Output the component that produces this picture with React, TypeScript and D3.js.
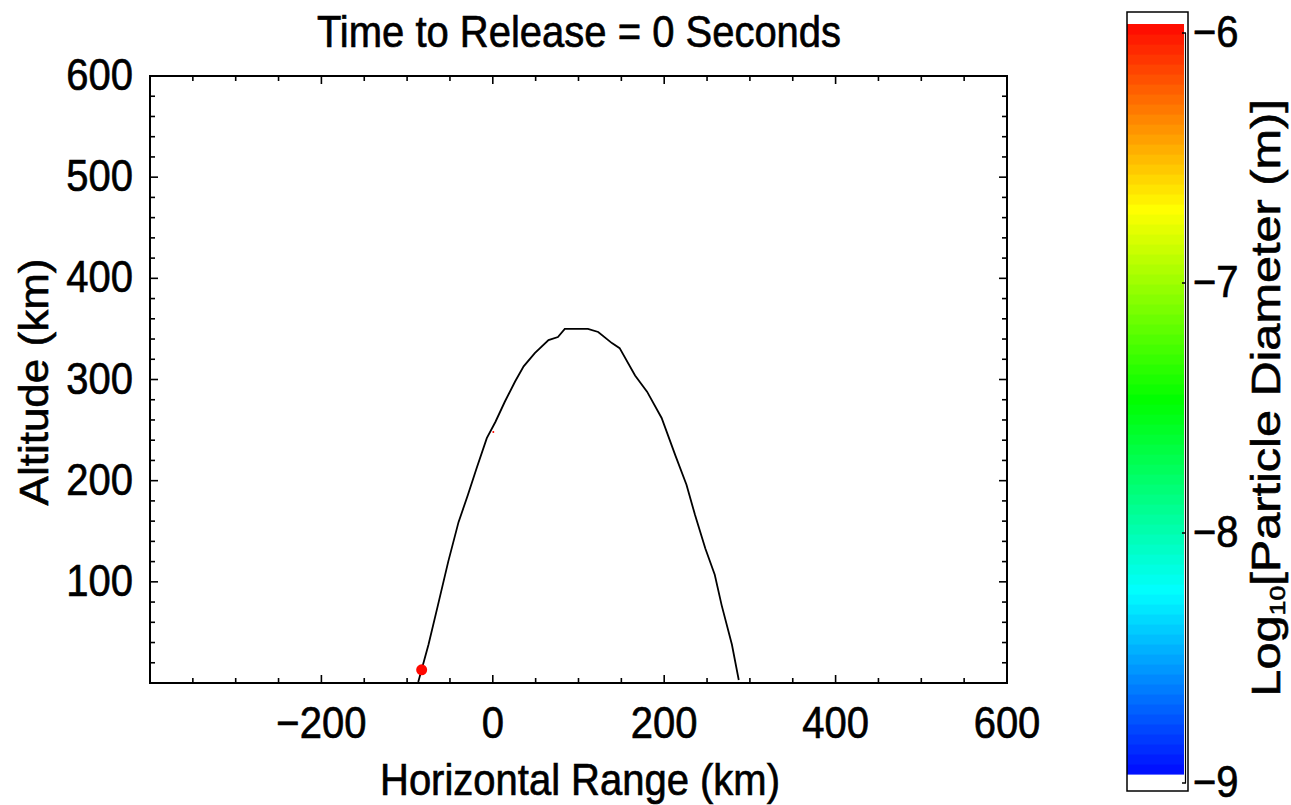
import React from 'react';
import * as d3 from 'd3';

// trajectory: [horizontal range km, altitude km]
const trackX = [-87, -75, -64, -52, -40, -29, -19, -7, 3, 14, 26, 36, 49, 65, 76, 84, 111, 123, 139, 148, 166, 180, 197, 213, 226, 236, 248, 259, 267, 279, 287];
const trackY = [1, 38, 77, 120, 159, 186, 212, 242, 258, 278, 298, 313, 326, 339, 342, 350, 350, 347, 336, 331, 304, 288, 262, 225, 196, 166, 133, 107, 77, 38, 3];

// particles: position and log10 diameter
const particleX = [-83, 0.6];
const particleY = [13, 248];
const particleSize = [5.5, 1];
const particleLogD = [-6, -6];

const xTicks = [-200, 0, 200, 400, 600];
const yTicks = [100, 200, 300, 400, 500, 600];
const cbTicks = [-6, -7, -8, -9];

const FONT = "'Liberation Sans', Arial, Helvetica, sans-serif";
const SY = 1.1;

const W = 1291;
const H = 805;
const plot = { left: 150, right: 1007, top: 76, bottom: 683 };

const x = d3.scaleLinear().domain([-400, 600]).range([plot.left, plot.right]);
const y = d3.scaleLinear().domain([0, 600]).range([plot.bottom, plot.top]);
const cy = d3.scaleLinear().domain([-9, -6]).range([783, 33]);

const colorOf = (v: number) => {
  const h = Math.max(0, Math.min(0.66, ((-6 - v) / 3) * 0.655 + 0.005));
  return d3.hsl(h * 360, 1, 0.5).formatHex();
};

const Label = ({ tx, ty, anchor = 'middle', rotate = false, children, length }: any) => (
  <text
    transform={`translate(${tx},${ty}) scale(1,${SY})${rotate ? ' rotate(-90)' : ''}`}
    textAnchor={anchor}
    fontFamily={FONT}
    fontSize={40}
    fill="#000"
    stroke="#000"
    strokeWidth={0.6}
    textLength={length}
    lengthAdjust={length ? 'spacingAndGlyphs' : undefined}
  >
    {children}
  </text>
);

const fmt = (v: number) => (v < 0 ? '\u2212' + Math.abs(v) : String(v));

export default function App() {
  const line = d3
    .line<number>()
    .x((_, i) => x(trackX[i]))
    .y((_, i) => y(trackY[i]));

  const xMinor = d3.range(-350, 600, 50);
  const yMinor = d3.range(20, 600, 20);

  const step = 0.04;
  const bands = d3.range(-9, -6 - 1e-9, step);

  return (
    <svg width={W} height={H} style={{ position: 'absolute', left: 0, top: 0, background: '#fff' }}>
      <rect x={0} y={0} width={W} height={H} fill="#fff" />

      {/* ticks, inward on all four sides */}
      <g stroke="#000" strokeWidth={1.6}>
        {xMinor.map((v) => {
          const len = v % 200 === 0 ? 8 : 5;
          return (
            <g key={'x' + v}>
              <line x1={x(v)} x2={x(v)} y1={plot.bottom} y2={plot.bottom - len} />
              <line x1={x(v)} x2={x(v)} y1={plot.top} y2={plot.top + len} />
            </g>
          );
        })}
        {yMinor.map((v) => {
          const len = v % 100 === 0 ? 8 : 5;
          return (
            <g key={'y' + v}>
              <line x1={plot.left} x2={plot.left + len} y1={y(v)} y2={y(v)} />
              <line x1={plot.right} x2={plot.right - len} y1={y(v)} y2={y(v)} />
            </g>
          );
        })}
      </g>

      {/* trajectory */}
      <path d={line(trackX) || ''} fill="none" stroke="#000" strokeWidth={1.8} />
      {particleX.map((px, i) => (
        <circle key={i} cx={x(px)} cy={y(particleY[i])} r={particleSize[i]} fill={colorOf(particleLogD[i])} />
      ))}

      <rect
        x={plot.left}
        y={plot.top}
        width={plot.right - plot.left}
        height={plot.bottom - plot.top}
        fill="none"
        stroke="#000"
        strokeWidth={2}
      />

      {/* tick labels */}
      {xTicks.map((v) => (
        <Label key={'xl' + v} tx={x(v)} ty={738}>
          {fmt(v)}
        </Label>
      ))}
      {yTicks.map((v) => (
        <Label key={'yl' + v} tx={133} ty={y(v) + 14} anchor="end">
          {fmt(v)}
        </Label>
      ))}

      {/* titles */}
      <Label tx={579} ty={47}>Time to Release = 0 Seconds</Label>
      <Label tx={580} ty={795}>Horizontal Range (km)</Label>
      <Label tx={48} ty={382} rotate>
        Altitude (km)
      </Label>

      {/* colour bar */}
      {bands.map((v, i) => (
        <rect
          key={'b' + i}
          x={1127}
          width={57}
          y={cy(v + step) - 9}
          height={cy(v) - cy(v + step) + 0.6}
          fill={colorOf(v + step / 2)}
        />
      ))}
      <rect x={1127} y={12} width={61} height={779} fill="none" stroke="#000" strokeWidth={1.5} />
      <line x1={1185.5} x2={1185.5} y1={cy(-6)} y2={cy(-9)} stroke="#000" strokeWidth={1.2} />
      {cbTicks.map((v) => (
        <g key={'c' + v}>
          <line x1={1182} x2={1186} y1={cy(v)} y2={cy(v)} stroke="#000" strokeWidth={1.5} />
          <Label tx={1193} ty={cy(v) + 14} anchor="start">
            {fmt(v)}
          </Label>
        </g>
      ))}
      <Label tx={1280} ty={398} rotate length={543}>
        Log
        <tspan fontSize={22} dy={5}>
          10
        </tspan>
        <tspan dy={-5}>[Particle Diameter (m)]</tspan>
      </Label>
    </svg>
  );
}
